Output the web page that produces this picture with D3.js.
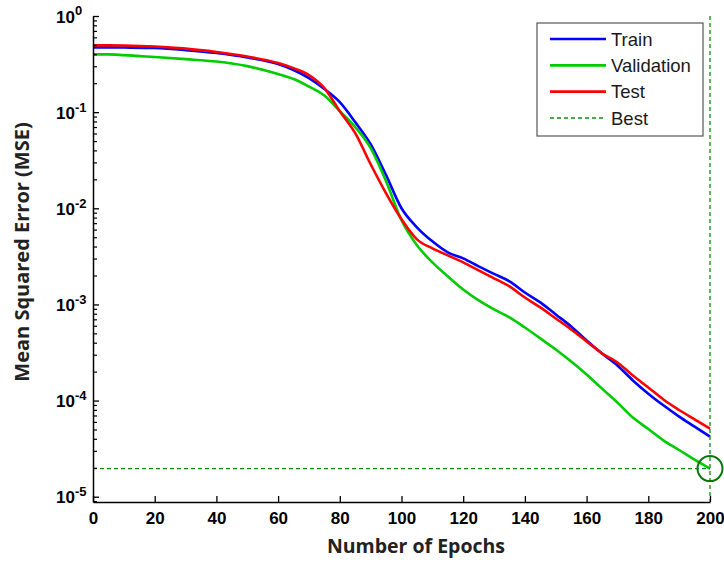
<!DOCTYPE html>
<html>
<head>
<meta charset="utf-8">
<script src="https://cdn.jsdelivr.net/npm/d3@7"></script>
<style>
  html, body { margin: 0; padding: 0; background: #fff; }
  svg { display: block; }
</style>
</head>
<body>
<svg id="chart" width="724" height="562"></svg>
<script>
// ---- data ----
const epochs = [0,5,10,20,30,40,50,60,65,70,75,80,85,90,95,100,105,110,115,120,125,130,135,140,145,150,155,160,165,170,175,180,185,190,195,200];
const trainMSE = [0.472,0.472,0.470,0.464,0.442,0.412,0.370,0.316,0.274,0.226,0.174,0.127,0.0787,0.0464,0.0221,0.0100,0.00634,0.00453,0.00348,0.00301,0.00249,0.00208,0.00174,0.00133,0.00105,0.000787,0.000590,0.000422,0.000309,0.000232,0.000162,0.000118,0.0000887,0.0000681,0.0000536,0.0000422];
const validationMSE = [0.399,0.399,0.392,0.374,0.356,0.336,0.301,0.249,0.221,0.1845,0.1486,0.1024,0.0698,0.0422,0.0191,0.00750,0.00412,0.00274,0.00196,0.00143,0.00110,0.000887,0.000733,0.000575,0.000443,0.000340,0.000255,0.000187,0.000133,0.0000953,0.0000665,0.0000506,0.0000383,0.0000306,0.0000243,0.0000196];
const testMSE = [0.495,0.495,0.493,0.481,0.458,0.422,0.379,0.324,0.287,0.243,0.178,0.1024,0.0604,0.0287,0.0143,0.00768,0.00475,0.00383,0.00324,0.00274,0.00226,0.00187,0.00154,0.00118,0.000931,0.000715,0.000549,0.000412,0.000309,0.000249,0.000182,0.000137,0.000102,0.0000798,0.0000638,0.0000511];
const seriesNames = ["Train","Validation","Test"];
const seriesColors = ["#0000ff","#00cc00","#ff0000"];
const bestEpoch = 200;
const bestValue = 0.0000196;
const xTicks = [0,20,40,60,80,100,120,140,160,180,200];
const yMajorExp = [0,-1,-2,-3,-4,-5];
const xTitle = "Number of Epochs";
const yTitle = "Mean Squared Error (MSE)";

// ---- layout ----
const svg = d3.select("#chart");
const x = d3.scaleLinear().domain([0, 200]).range([93, 710]);
const y = d3.scaleLog().domain([Math.pow(10, -5.055), 1]).range([502, 16]);

// lines
const series = [trainMSE, validationMSE, testMSE];
const line = d3.line().x((d, i) => x(epochs[i])).y(d => y(d)).curve(d3.curveMonotoneX);
series.forEach((s, k) => {
  svg.append("path").datum(s)
    .attr("d", line)
    .attr("fill", "none")
    .attr("stroke", seriesColors[k])
    .attr("stroke-width", 2.6)
    .attr("stroke-linejoin", "round");
});

// best lines
const bestColor = "#118a11";
svg.append("line")
  .attr("x1", x(0)).attr("x2", x(bestEpoch))
  .attr("y1", y(bestValue)).attr("y2", y(bestValue))
  .attr("stroke", bestColor).attr("stroke-width", 1.3).attr("stroke-dasharray", "4,3");
svg.append("line")
  .attr("x1", x(bestEpoch)).attr("x2", x(bestEpoch))
  .attr("y1", y(1)).attr("y2", y.range()[0])
  .attr("stroke", bestColor).attr("stroke-width", 1.3).attr("stroke-dasharray", "4,3");
svg.append("circle")
  .attr("cx", x(bestEpoch)).attr("cy", y(bestValue)).attr("r", 12.5)
  .attr("fill", "none").attr("stroke", "#0b760b").attr("stroke-width", 2);

// x axis
const xAxis = d3.axisBottom(x).tickValues(xTicks).tickSize(-6).tickPadding(10).tickSizeOuter(0);
const gx = svg.append("g").attr("transform", `translate(0,${y.range()[0]})`).call(xAxis);
gx.select(".domain").attr("stroke", "#000").attr("stroke-width", 1.5);
gx.selectAll(".tick line").attr("stroke", "#000").attr("stroke-width", 1.3);
gx.selectAll(".tick text")
  .attr("font-family", "Liberation Sans, Arial, sans-serif")
  .attr("font-weight", "bold").attr("font-size", 17).attr("fill", "#000");

// y axis major
const yMajor = yMajorExp.map(e => Math.pow(10, e));
const yMinor = [];
for (let e = -6; e < 0; e++) for (let m = 2; m <= 9; m++) {
  const v = m * Math.pow(10, e);
  if (v >= y.domain()[0] && v <= 1) yMinor.push(v);
}
const gyMinor = svg.append("g").attr("transform", `translate(${x(0)},0)`)
  .call(d3.axisLeft(y).tickValues(yMinor).tickSize(-4).tickFormat(""));
gyMinor.select(".domain").remove();
gyMinor.selectAll(".tick line").attr("stroke", "#000").attr("stroke-width", 1.2);

const gy = svg.append("g").attr("transform", `translate(${x(0)},0)`)
  .call(d3.axisLeft(y).tickValues(yMajor).tickSize(-6).tickSizeOuter(0).tickFormat(""));
gy.select(".domain").attr("stroke", "#000").attr("stroke-width", 1.5);
gy.selectAll(".tick line").attr("stroke", "#000").attr("stroke-width", 1.3);
gy.selectAll(".tick").each(function(d) {
  const t = d3.select(this).append("text")
    .attr("x", -37).attr("dy", "0.36em")
    .attr("text-anchor", "start")
    .attr("font-family", "Liberation Sans, Arial, sans-serif")
    .attr("font-weight", "bold").attr("font-size", 17).attr("fill", "#000");
  t.append("tspan").text("10");
  t.append("tspan").attr("dy", "-0.55em").attr("font-size", 13)
    .text(String(Math.round(Math.log10(d))));
});

// axis titles
svg.append("text")
  .attr("x", 416).attr("y", 553).attr("text-anchor", "middle")
  .attr("font-family", "Open Sans, DejaVu Sans, sans-serif")
  .attr("font-weight", "bold").attr("font-size", 19.5).attr("fill", "#222")
  .text(xTitle);
svg.append("text")
  .attr("transform", "translate(29,252) rotate(-90)")
  .attr("text-anchor", "middle")
  .attr("font-family", "Open Sans, DejaVu Sans, sans-serif")
  .attr("font-weight", "bold").attr("font-size", 20).attr("fill", "#222")
  .text(yTitle);

// legend
const lg = svg.append("g");
lg.append("rect").attr("x", 537).attr("y", 23).attr("width", 166).attr("height", 113)
  .attr("fill", "#fff").attr("stroke", "#555").attr("stroke-width", 1.2);
const legendItems = seriesNames.map((n, i) => ({name: n, color: seriesColors[i], dash: null}))
  .concat([{name: "Best", color: bestColor, dash: "4,3"}]);
const legendY = d3.scalePoint().domain(legendItems.map(d => d.name)).range([39, 118]);
legendItems.forEach(d => {
  const yy = legendY(d.name);
  lg.append("line").attr("x1", 550).attr("x2", 606).attr("y1", yy).attr("y2", yy)
    .attr("stroke", d.color).attr("stroke-width", d.dash ? 1.3 : 2.6)
    .attr("stroke-dasharray", d.dash);
  lg.append("text").attr("x", 611).attr("y", yy).attr("dy", "0.36em")
    .attr("font-family", "Liberation Sans, Arial, sans-serif")
    .attr("font-size", 18.5).attr("fill", "#1a1a1a").text(d.name);
});
</script>
</body>
</html>
